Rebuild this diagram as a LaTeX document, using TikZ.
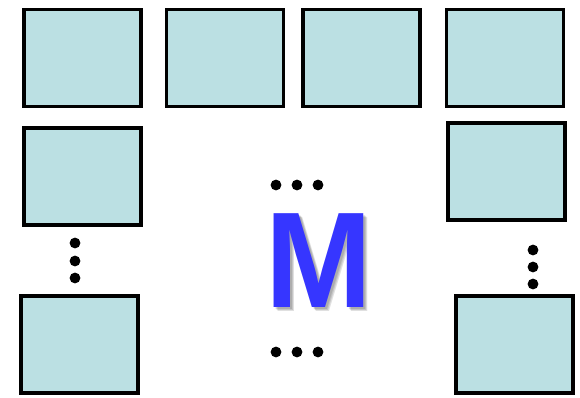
\documentclass[tikz,border=0pt]{standalone}
\usepackage{fontspec}
\newfontfamily\bigfont{Liberation Sans}
\usepackage{tikz}
\usetikzlibrary{positioning}
\definecolor{panelfill}{RGB}{187,224,227}
\definecolor{mblue}{RGB}{54,54,255}

\begin{document}
\begin{tikzpicture}[x=0.025cm, y=-0.025cm,
    panel/.style={draw=black, line width=2.6pt, fill=panelfill, rectangle,
                  minimum width=2.93cm, minimum height=2.43cm, inner sep=0pt},
    dot/.style={circle, fill=black, inner sep=0pt, minimum size=0.27cm},
    letter/.style={inner sep=0pt, transform shape, xscale=0.94,
                   font=\bigfont\bfseries\fontsize{97}{97}\selectfont}]
   \useasboundingbox (0,0) rectangle (580,397);
   % top row
   \node[panel] (t1) at (82.5,58) {};
   \node[panel] (t2) at (225,58) {};
   \node[panel] (t3) at (361.5,58) {};
   \node[panel] (t4) at (505,58) {};
   % left column
   \node[panel] (l2) at (82.5,176.5) {};
   \node[panel] (l3) at (79.5,344.5) {};
   % right column
   \node[panel] (r2) at (506.5,171.5) {};
   \node[panel] (r3) at (514.5,344.5) {};
   % vertical dots
   \node[dot] (ld1) at (75,243) {};
   \node[dot] (ld2) at (75,261) {};
   \node[dot] (ld3) at (75,278) {};
   \node[dot] (rd1) at (533,250) {};
   \node[dot] (rd2) at (533,267) {};
   \node[dot] (rd3) at (533,284) {};
   % horizontal dots
   \foreach \x [count=\i] in {276,297,318} {
      \node[dot] (ud\i) at (\x,185) {};
      \node[dot] (bd\i) at (\x,352) {};
   }
   % the big letter with its shadow
   \foreach \d in {2,3,4} {
      \node[letter, text=black, opacity=0.12] at (318.5+\d,261+\d) {M};
   }
   \node[letter, text=mblue] (m) at (318.5,261) {M};
\end{tikzpicture}
\end{document}
